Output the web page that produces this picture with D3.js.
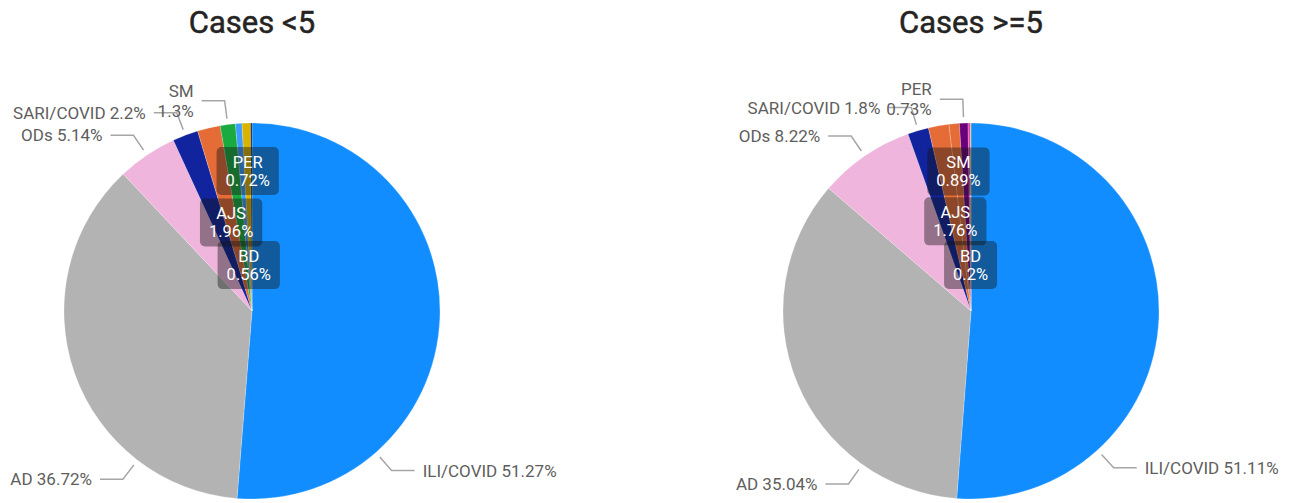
<!DOCTYPE html>
<html>
<head>
<meta charset="utf-8">
<script src="https://cdn.jsdelivr.net/npm/d3@7"></script>
<style>
  html, body { margin: 0; padding: 0; background: #fff; }
  svg { display: block; }
</style>
</head>
<body>
<svg id="chart" width="1300" height="503"></svg>
<script>
// ---------------- DATA ----------------
const titles = ["Cases <5", "Cases >=5"];

const leftCategories = ["ILI/COVID", "AD", "ODs", "SARI/COVID", "AJS", "SM", "BD", "PER", "Other"];
const leftValues     = [51.27, 36.72, 5.14, 2.2, 1.96, 1.3, 0.56, 0.72, 0.13];

const rightCategories = ["ILI/COVID", "AD", "ODs", "SARI/COVID", "AJS", "SM", "PER", "BD", "Other"];
const rightValues     = [51.11, 35.04, 8.22, 1.8, 1.76, 0.89, 0.73, 0.2, 0.05];

// ---------------- STYLE / LAYOUT ----------------
const leftColors  = ["#118DFF", "#B3B3B3", "#F0B5DC", "#12239E", "#E66C37", "#1AAB40", "#3A9DFF", "#D9B300", "#222222"];
const rightColors = ["#118DFF", "#B3B3B3", "#F0B5DC", "#12239E", "#E66C37", "#E66C37", "#6B007B", "#E044A7", "#D9B300"];

// label placement rules (Power BI style): outside callouts or stacked inside boxes
const leftLabelLayout = [
  { cat: "ILI/COVID", mode: "out", anchorDeg: 138.8 },
  { cat: "AD", mode: "out", anchorDeg: 217.5 },
  { cat: "ODs", mode: "out" },
  { cat: "SARI/COVID", mode: "out" },
  { cat: "AJS", mode: "in", radius: 91 },
  { cat: "SM", mode: "out", wrap: true },
  { cat: "BD", mode: "in", radius: 46 },
  { cat: "PER", mode: "in", radius: 140 }
];
const rightLabelLayout = [
  { cat: "ILI/COVID", mode: "out", anchorDeg: 137.7 },
  { cat: "AD", mode: "out", anchorDeg: 215.3 },
  { cat: "ODs", mode: "out" },
  { cat: "SARI/COVID", mode: "out" },
  { cat: "AJS", mode: "in", radius: 91 },
  { cat: "SM", mode: "in", radius: 140 },
  { cat: "PER", mode: "out", wrap: true },
  { cat: "BD", mode: "in", radius: 46 }
];

const W = 1300, H = 503;
const R = 188;
const panels = [
  { title: titles[0], cats: leftCategories, vals: leftValues, colors: leftColors, layout: leftLabelLayout, cx: 252, cy: 311 },
  { title: titles[1], cats: rightCategories, vals: rightValues, colors: rightColors, layout: rightLabelLayout, cx: 971, cy: 311 }
];

const FONT = "Roboto, 'Noto Sans', 'DejaVu Sans', sans-serif";
const svg = d3.select("#chart");

const pieGen = d3.pie().sort(null).value(d => d.value);
const arcGen = d3.arc().innerRadius(0).outerRadius(R);

function polar(r, a) { return [r * Math.sin(a), -r * Math.cos(a)]; }

panels.forEach(p => {
  const data = p.cats.map((c, i) => ({ cat: c, value: p.vals[i], color: p.colors[i] }));
  const arcs = pieGen(data);
  const byCat = new Map(arcs.map(a => [a.data.cat, a]));

  // title
  svg.append("text")
    .attr("x", p.cx).attr("y", 33)
    .attr("text-anchor", "middle")
    .attr("font-family", FONT)
    .attr("font-weight", 400)
    .attr("font-size", 31)
    .attr("stroke", "#252423")
    .attr("stroke-width", 0.5)
    .attr("fill", "#252423")
    .text(p.title);

  const g = svg.append("g").attr("transform", `translate(${p.cx},${p.cy})`);

  g.selectAll("path.slice").data(arcs).enter().append("path")
    .attr("class", "slice")
    .attr("d", arcGen)
    .attr("fill", d => d.data.color)
    .attr("stroke", "#ffffff")
    .attr("stroke-opacity", 0.35)
    .attr("stroke-width", 0.6);

  const lineG = g.append("g");
  const textG = g.append("g");
  const boxG = g.append("g");

  p.layout.forEach(L => {
    const a = byCat.get(L.cat);
    const pct = a.data.value + "%";
    if (L.mode === "out") {
      const ang = L.anchorDeg !== undefined ? L.anchorDeg * Math.PI / 180 : (a.startAngle + a.endAngle) / 2;
      const s = polar(R + 6, ang);
      const e = polar(R + 24, ang);
      const side = Math.sin(ang) >= 0 ? 1 : -1;
      const h = [e[0] + side * 23, e[1]];
      lineG.append("polyline")
        .attr("points", [s, e, h].map(q => q.join(",")).join(" "))
        .attr("fill", "none")
        .attr("stroke", "#A6A6A6")
        .attr("stroke-width", 1.5);
      const tx = h[0] + side * 8;
      const anchor = side > 0 ? "start" : "end";
      const t = textG.append("text")
        .attr("font-family", FONT)
        .attr("font-size", 17)
        .attr("fill", "#605E5C")
        .attr("text-anchor", anchor);
      if (L.wrap) {
        t.append("tspan").attr("x", tx).attr("y", h[1] - 10).attr("dominant-baseline", "central").text(a.data.cat);
        t.append("tspan").attr("x", tx).attr("y", h[1] + 10).attr("dominant-baseline", "central").text(pct);
      } else {
        t.attr("x", tx).attr("y", h[1]).attr("dominant-baseline", "central").text(a.data.cat + " " + pct);
      }
    } else {
      const mid = (a.startAngle + a.endAngle) / 2;
      const c = polar(L.radius, mid);
      const bg = boxG.append("g").attr("transform", `translate(${c[0]},${c[1]})`);
      const rect = bg.append("rect");
      const t1 = bg.append("text").attr("x", 0).attr("y", -9)
        .attr("text-anchor", "middle").attr("dominant-baseline", "central")
        .attr("font-family", FONT).attr("font-size", 16.5).attr("fill", "#ffffff").text(a.data.cat);
      const t2 = bg.append("text").attr("x", 0).attr("y", 9)
        .attr("text-anchor", "middle").attr("dominant-baseline", "central")
        .attr("font-family", FONT).attr("font-size", 16.5).attr("fill", "#ffffff").text(pct);
      const w = Math.max(t1.node().getComputedTextLength(), t2.node().getComputedTextLength()) + 18;
      rect.attr("x", -w / 2).attr("y", -24).attr("width", w).attr("height", 48)
        .attr("rx", 5).attr("fill", "rgba(20,20,20,0.42)");
      rect.lower();
    }
  });
});
</script>
</body>
</html>
